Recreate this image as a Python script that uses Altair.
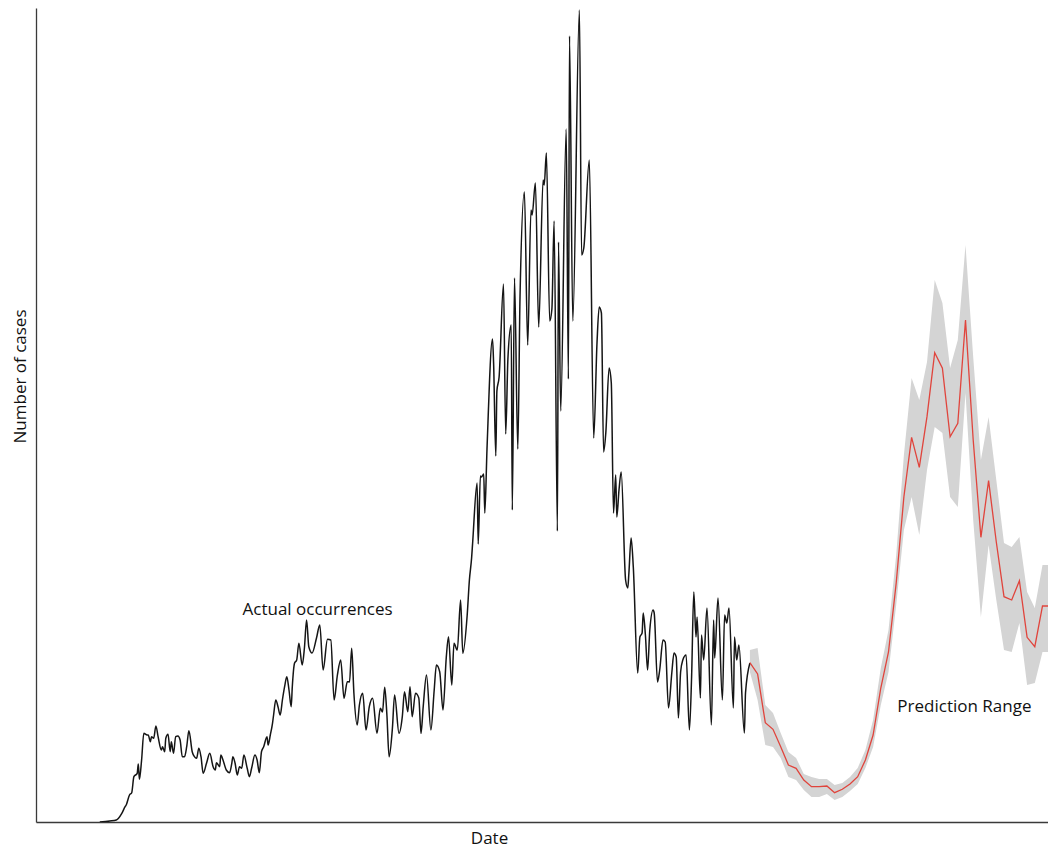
import altair as alt
import pandas as pd

# Day offsets from 2020-01-01 and reported daily cases (peaks and troughs of the series)
START = pd.Timestamp("2020-01-01")

actual_day = [
    58, 67, 73, 78, 81, 82, 85, 87, 89, 92,
    93, 94, 96, 98, 101, 102, 104, 105, 107, 109,
    111, 114, 115, 117, 118, 120, 122, 123, 125, 127,
    129, 131, 133, 135, 137, 139, 142, 144, 146, 148,
    150, 152, 155, 158, 161, 163, 164, 167, 168, 170,
    173, 176, 178, 179, 181, 183, 185, 187, 189, 192,
    194, 196, 199, 201, 203, 205, 207, 210, 211, 213,
    215, 216, 218, 220, 222, 224, 226, 228, 230, 232,
    233, 235, 237, 239, 242, 244, 246, 248, 251, 255,
    258, 261, 265, 268, 271, 274, 277, 280, 283, 285,
    287, 289, 292, 294, 297, 300, 303, 306, 310, 313,
    315, 317, 319, 321, 324, 326, 330, 333, 335, 338,
    340, 342, 345, 348, 350, 352, 355, 359, 362, 364,
    367, 370, 373, 375, 378, 380, 383, 386, 388, 392,
    394, 396, 397, 401, 402, 404, 405, 407, 408, 410,
    415, 416, 418, 419, 421, 425, 427, 429, 432, 433,
    435, 438, 440, 444, 447, 450, 451, 454, 457, 461,
    462, 464, 467, 469, 471, 474, 475, 477, 482, 484,
    485, 488, 494, 496, 498, 503, 507, 510, 512, 514,
    516, 518, 521, 523, 525, 527, 528, 530, 532, 536,
    538, 539, 541, 543, 547, 549, 551, 552, 554, 556,
    558, 561, 562, 565, 567, 570, 572, 575, 578, 580,
    582, 584, 586, 588, 591, 594, 596, 598, 600, 601,
    604, 605, 607, 610, 614, 616, 617, 620, 624, 626,
    628, 630, 634, 635, 637, 639, 644, 645, 649,
]

actual_cases = [
    0, 10, 20, 87, 153, 170, 270, 293, 453, 487,
    580, 427, 620, 887, 870, 870, 803, 853, 837, 960,
    853, 720, 753, 703, 837, 877, 703, 803, 687, 853,
    860, 820, 653, 653, 753, 913, 703, 653, 637, 737,
    653, 487, 587, 687, 553, 520, 593, 553, 670, 620,
    520, 493, 587, 653, 587, 470, 553, 537, 670, 537,
    453, 537, 670, 620, 493, 703, 753, 853, 770, 870,
    987, 1070, 1220, 1153, 1070, 1220, 1353, 1453, 1320, 1153,
    1353, 1587, 1620, 1787, 1570, 1737, 2020, 1753, 1690, 1840,
    1970, 1520, 1827, 1820, 1220, 1470, 1620, 1237, 1403, 1400,
    1737, 1287, 970, 1170, 1287, 920, 1153, 1237, 887, 1137,
    1100, 1347, 1070, 653, 937, 1270, 887, 1053, 1303, 1103,
    1353, 1053, 1287, 1240, 887, 1153, 1470, 920, 1320, 1570,
    1503, 1120, 1650, 1853, 1370, 1787, 1720, 2220, 1687, 2070,
    2420, 2640, 2800, 3390, 2780, 3460, 3450, 3480, 3090, 3730,
    4830, 4590, 3660, 4310, 4450, 5380, 3880, 4630, 4970, 3120,
    5440, 3730, 5240, 6300, 4770, 6120, 6070, 6390, 4950, 6420,
    6370, 6690, 5010, 5130, 6010, 2910, 5800, 4110, 6930, 4430,
    7860, 5010, 8120, 5670, 5740, 6620, 3840, 4790, 5150, 5090,
    3700, 3890, 4540, 4390, 3090, 3470, 3050, 3320, 3500, 2420,
    2340, 2490, 2840, 2550, 1490, 1850, 1890, 2090, 1870, 1520,
    1920, 2120, 2090, 1400, 1520, 1820, 1800, 1140, 1490, 1690,
    1650, 1040, 1500, 1620, 1670, 920, 1450, 2300, 1850, 2050,
    1240, 1870, 1620, 2140, 970, 2020, 1640, 2240, 1220, 2070,
    1990, 2140, 1140, 1850, 1620, 1770, 890, 1290, 1590,
]

# Weekly forecast: central estimate with lower / upper bounds
forecast_day = [
    649, 656, 663, 670, 677, 684, 691, 698, 705, 712,
    719, 726, 733, 740, 747, 754, 761, 768, 775, 782,
    789, 796, 803, 810, 817, 824, 831, 838, 845, 852,
    859, 866, 873, 880, 887, 894, 901, 908, 915, 922,
]
forecast_mid = [
    1593, 1480, 993, 927, 753, 570, 537, 420, 353, 353,
    360, 293, 327, 380, 453, 620, 870, 1340, 1700, 2390,
    3253, 3847, 3547, 4053, 4693, 4537, 3853, 3987, 5020, 3820,
    2847, 3413, 2800, 2253, 2220, 2413, 1847, 1753, 2160, 2160,
]
forecast_upper = [
    1720, 1740, 1170, 1090, 890, 700, 640, 480, 450, 430,
    430, 370, 390, 450, 540, 720, 1020, 1540, 1920, 2670,
    3670, 4440, 4220, 4600, 5420, 5190, 4540, 4820, 5770, 4650,
    3620, 4050, 3420, 2790, 2750, 2850, 2300, 2140, 2570, 2570,
]
forecast_lower = [
    1500, 1220, 770, 750, 640, 450, 420, 320, 250, 250,
    280, 220, 250, 310, 380, 540, 750, 1170, 1500, 2170,
    2920, 3250, 2870, 3520, 3950, 3890, 3250, 3150, 4290, 3020,
    2050, 2770, 2220, 1720, 1700, 1990, 1370, 1390, 1700, 1700,
]

# Annotation labels (anchor day, anchor value)
label_text = ["Actual occurrences", "Prediction Range"]
label_day = [256, 844]
label_value = [2075, 1100]

END_DAY = 920
Y_MAX = 8140


def to_dates(days):
    return START + pd.to_timedelta(days, unit="D")


actual_df = pd.DataFrame({"date": to_dates(actual_day), "cases": actual_cases})
forecast_df = pd.DataFrame({
    "date": to_dates(forecast_day),
    "mid": forecast_mid,
    "lower": forecast_lower,
    "upper": forecast_upper,
})
label_df = pd.DataFrame({"date": to_dates(label_day), "value": label_value, "label": label_text})

end = START + pd.Timedelta(days=END_DAY)
x_scale = alt.Scale(domain=[alt.DateTime(year=START.year, month=START.month, date=START.day),
                            alt.DateTime(year=end.year, month=end.month, date=end.day)])
y_scale = alt.Scale(domain=[0, Y_MAX], nice=False)

FONT = "Open Sans"
x_axis = alt.Axis(title="Date", labels=False, ticks=False, grid=False,
                  domainColor="#3a3a3a", domainWidth=1.3,
                  titleFont=FONT, titleFontSize=17, titleFontWeight="normal", titleColor="#111111",
                  titleX=453, titleY=21, titleBaseline="alphabetic", titleAlign="center")
y_axis = alt.Axis(title="Number of cases", labels=False, ticks=False, grid=False,
                  domainColor="#3a3a3a", domainWidth=1.3,
                  titleFont=FONT, titleFontSize=17, titleFontWeight="normal", titleColor="#111111",
                  titleX=-11, titleY=368, titleBaseline="alphabetic", titleAlign="center")

band = alt.Chart(forecast_df).mark_area(color="#d4d4d4", clip=True).encode(
    x=alt.X("date:T", scale=x_scale, axis=x_axis, title="Date"),
    y=alt.Y("lower:Q", scale=y_scale, axis=y_axis, title="Number of cases"),
    y2="upper:Q",
)

actual_line = alt.Chart(actual_df).mark_line(
    color="#151515", strokeWidth=1.5, interpolate="monotone", clip=True
).encode(
    x=alt.X("date:T", scale=x_scale, axis=x_axis, title="Date"),
    y=alt.Y("cases:Q", scale=y_scale, axis=y_axis, title="Number of cases"),
)

forecast_line = alt.Chart(forecast_df).mark_line(color="#e0443c", strokeWidth=1.3, clip=True).encode(
    x=alt.X("date:T", scale=x_scale, axis=x_axis, title="Date"),
    y=alt.Y("mid:Q", scale=y_scale, axis=y_axis, title="Number of cases"),
)

labels = alt.Chart(label_df).mark_text(font=FONT, fontSize=17, align="center",
                                        baseline="alphabetic", color="#111111").encode(
    x=alt.X("date:T", scale=x_scale, axis=x_axis, title="Date"),
    y=alt.Y("value:Q", scale=y_scale, axis=y_axis, title="Number of cases"),
    text="label:N",
)

chart = alt.layer(band, actual_line, forecast_line, labels).properties(
    width=1012,
    height=814,
    padding={"left": 36, "top": 8, "right": 0, "bottom": 25},
    autosize=alt.AutoSizeParams(type="none"),
    background="white",
).configure_view(stroke=None)

chart.save("out.html", embed_options={"renderer": "svg", "actions": False})
